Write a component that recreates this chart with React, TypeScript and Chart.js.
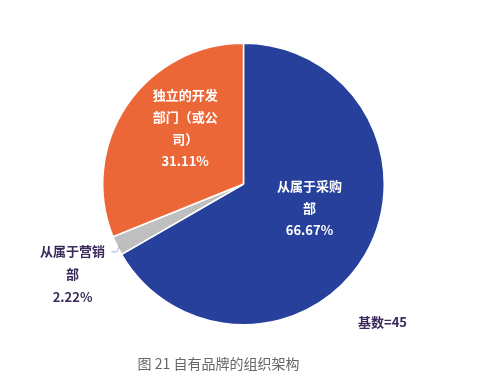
import React, { useEffect, useRef } from "react";
import { Chart, registerables } from "chart.js";

Chart.register(...registerables);

const categories = ["从属于采购部", "从属于营销部", "独立的开发部门（或公司）"];
const values = [66.67, 2.22, 31.11];
const labelLines = [
  ["从属于采购", "部", "66.67%"],
  ["从属于营销", "部", "2.22%"],
  ["独立的开发", "部门（或公", "司）", "31.11%"],
];
const colors = ["#26409C", "#BFBFBF", "#EC6737"];
const baseText = "基数=45";
const caption = "图 21 自有品牌的组织架构";

const FONT = '"Noto Sans CJK SC", "Noto Sans", sans-serif';

const labelPlugin = {
  id: "sliceLabels",
  afterDatasetsDraw(chart: any) {
    const ctx = chart.ctx;
    const meta = chart.getDatasetMeta(0);
    ctx.save();
    ctx.font = `bold 13px ${FONT}`;
    ctx.textAlign = "center";
    ctx.textBaseline = "middle";
    const lh = 22;
    meta.data.forEach((arc: any, i: number) => {
      const { x, y, startAngle, endAngle, outerRadius } = arc.getProps(
        ["x", "y", "startAngle", "endAngle", "outerRadius"],
        true
      );
      const mid = (startAngle + endAngle) / 2;
      const lines = labelLines[i];
      if (i === 1) {
        // outside label with leader line
        const ex = x + Math.cos(mid) * (outerRadius - 4);
        const ey = y + Math.sin(mid) * (outerRadius - 4);
        ctx.strokeStyle = "#9FB3CF";
        ctx.lineWidth = 1;
        ctx.beginPath();
        ctx.moveTo(ex, ey);
        ctx.lineTo(ex - 4, ey + 8);
        ctx.lineTo(ex - 9, ey + 8);
        ctx.stroke();
        ctx.fillStyle = "#3A2A5A";
        const cx = ex - 48;
        const cy0 = ey + 7;
        const lhs = 23;
        lines.forEach((t, k) => ctx.fillText(t, cx, cy0 + k * lhs));
      } else {
        const r = outerRadius * 0.5;
        let cx = x + Math.cos(mid) * r;
        let cy = y + Math.sin(mid) * r;
        if (i === 0) {
          cx += 5;
          cy -= 11;
        } else {
          cy -= 17;
        }
        ctx.fillStyle = "#FFFFFF";
        const top = cy - ((lines.length - 1) * lh) / 2;
        lines.forEach((t, k) => ctx.fillText(t, cx, top + k * lh));
      }
    });
    // base text
    ctx.fillStyle = "#3A2A5A";
    ctx.textAlign = "left";
    ctx.fillText(baseText, 358, 322);
    // caption
    ctx.font = `14px ${FONT}`;
    ctx.fillStyle = "#666666";
    ctx.textAlign = "center";
    ctx.fillText(caption, 218.5, 364);
    ctx.restore();
  },
};

export default function App() {
  const ref = useRef<HTMLCanvasElement | null>(null);
  useEffect(() => {
    if (!ref.current) return;
    const chart = new Chart(ref.current, {
      type: "pie",
      data: {
        labels: categories,
        datasets: [
          {
            data: values,
            backgroundColor: colors,
            borderColor: "#FFFFFF",
            borderWidth: 1.5,
          },
        ],
      },
      options: {
        responsive: false,
        animation: false,
        events: [],
        layout: { padding: { left: 102, right: 97, top: 42, bottom: 60 } },
        plugins: {
          legend: { display: false },
          tooltip: { enabled: false },
          title: { display: false },
        },
      },
      plugins: [labelPlugin],
    });
    return () => chart.destroy();
  }, []);
  return (
    <div style={{ position: "fixed", left: 0, top: 0, width: 482, height: 386, background: "#fff" }}>
      <canvas ref={ref} width={482} height={386} style={{ width: 482, height: 386 }} />
    </div>
  );
}
